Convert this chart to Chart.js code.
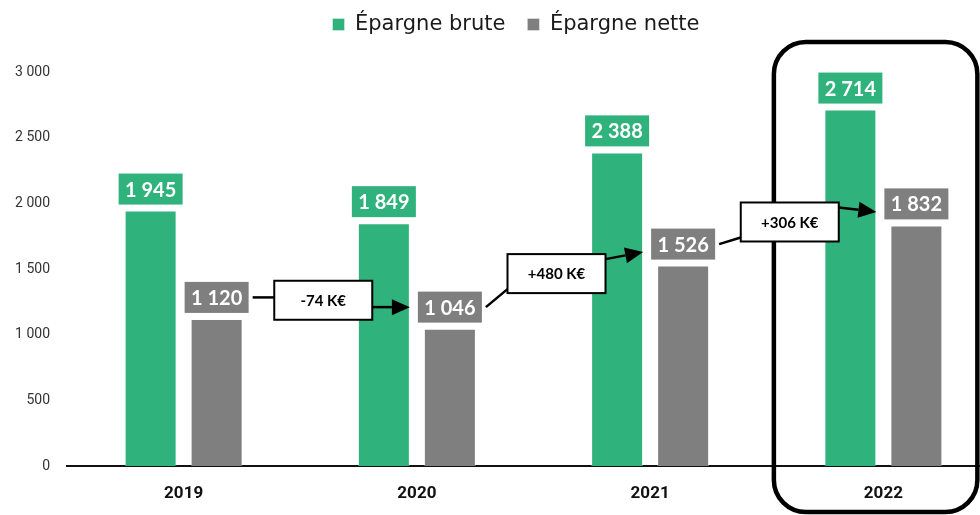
<!DOCTYPE html>
<html><head><meta charset="utf-8">
<script src="https://cdn.jsdelivr.net/npm/chart.js@4/dist/chart.umd.min.js"></script>
<style>
html,body{margin:0;padding:0;overflow:hidden;background:#fff;width:980px;height:515px}
#wrap{width:1040px;height:515px;position:relative}
</style>
</head><body><div id="wrap"><canvas id="c" width="1040" height="515"></canvas></div>
<script>
const categories = ['2019', '2020', '2021', '2022'];
const seriesNames = ['Épargne brute', 'Épargne nette'];
const epargneBrute = [1945, 1849, 2388, 2714];
const epargneNette = [1120, 1046, 1526, 1832];
const yTicks = [0, 500, 1000, 1500, 2000, 2500, 3000];
const highlightIndex = 3;

const GREEN = '#30B27C', GRAY = '#7F7F7F';
function fmt(n){ return String(Math.abs(n)).replace(/\B(?=(\d{3})+(?!\d))/g, ' '); }

function roundRectPath(ctx, x, y, w, h, r){
  ctx.beginPath();
  ctx.moveTo(x + r, y);
  ctx.lineTo(x + w - r, y);
  ctx.arcTo(x + w, y, x + w, y + r, r);
  ctx.lineTo(x + w, y + h - r);
  ctx.arcTo(x + w, y + h, x + w - r, y + h, r);
  ctx.lineTo(x + r, y + h);
  ctx.arcTo(x, y + h, x, y + h - r, r);
  ctx.lineTo(x, y + r);
  ctx.arcTo(x, y, x + r, y, r);
  ctx.closePath();
}

const overlay = {
  id: 'overlay',
  beforeInit(chart){
    const lg = chart.legend;
    if (lg){ const f = lg.fit; lg.fit = function(){ f.call(this); this.height = 72; }; }
  },
  afterLayout(chart){
    const lg = chart.legend;
    if (lg){ lg.top -= 8; lg.bottom -= 8; lg.left -= 4; lg.right -= 4; }
  },
  afterDatasetsDraw(chart){
    const ctx = chart.ctx;
    const xs = chart.scales.x;
    // highlight frame
    const hc = xs.getPixelForValue(highlightIndex);
    ctx.save();
    ctx.lineWidth = 4.5; ctx.strokeStyle = '#000';
    roundRectPath(ctx, hc - 109.5, chart.chartArea.top - 30, 203.5, chart.height - 3 - (chart.chartArea.top - 30), 32);
    ctx.stroke();
    ctx.restore();

    // value labels
    const boxes = [[], []];
    chart.data.datasets.forEach((ds, d) => {
      const meta = chart.getDatasetMeta(d);
      meta.data.forEach((bar, i) => {
        const w = 64, h = 31;
        const x = bar.x - w / 2, y = bar.y - 6 - h;
        ctx.fillStyle = ds.backgroundColor;
        ctx.fillRect(x, y, w, h);
        ctx.fillStyle = '#fff';
        ctx.font = 'bold 20px Lato';
        ctx.textAlign = 'center'; ctx.textBaseline = 'middle';
        ctx.fillText(fmt(ds.data[i]), bar.x, y + h / 2 + 1);
        boxes[d][i] = {left: x, right: x + w, top: y, bottom: y + h, cy: y + h / 2};
      });
    });

    // variation annotations
    const net = chart.data.datasets[1].data;
    ctx.save();
    for (let i = 0; i < net.length - 1; i++){
      const L = boxes[1][i], R = boxes[1][i + 1];
      const delta = net[i + 1] - net[i];
      const txt = (delta < 0 ? '-' : '+') + fmt(delta) + ' K€';
      const bw = 98, bh = 39;
      const cx = (L.right + R.left) / 2 - 10, cy = (L.cy + R.cy) / 2 - 2;
      const bl = cx - bw / 2, bt = cy - bh / 2;
      const clamp = (v, a, b) => Math.max(a, Math.min(b, v));
      ctx.strokeStyle = '#000'; ctx.fillStyle = '#000'; ctx.lineWidth = 2.5;
      // connector from left label
      ctx.beginPath();
      ctx.moveTo(L.right + 4, L.cy);
      ctx.lineTo(bl, clamp(L.cy, bt + 4, bt + bh - 4));
      ctx.stroke();
      // arrow to right label
      const sx = bl + bw, sy = clamp(R.cy, bt + 5, bt + bh - 5);
      const tx = R.left - 8, ty = R.cy + Math.sign(sy - R.cy) * 8;
      const ang = Math.atan2(ty - sy, tx - sx);
      const hl = 18, hw = 8;
      const bx = tx - Math.cos(ang) * hl, by = ty - Math.sin(ang) * hl;
      ctx.beginPath(); ctx.moveTo(sx, sy); ctx.lineTo(bx, by); ctx.stroke();
      ctx.beginPath();
      ctx.moveTo(tx, ty);
      ctx.lineTo(bx + Math.sin(ang) * hw, by - Math.cos(ang) * hw);
      ctx.lineTo(bx - Math.sin(ang) * hw, by + Math.cos(ang) * hw);
      ctx.closePath(); ctx.fill();
      // box
      ctx.fillStyle = '#fff';
      ctx.fillRect(bl, bt, bw, bh);
      ctx.lineWidth = 2;
      ctx.strokeRect(bl, bt, bw, bh);
      ctx.fillStyle = '#000';
      ctx.font = 'bold 15px Lato';
      ctx.textAlign = 'center'; ctx.textBaseline = 'middle';
      ctx.fillText(txt, cx, cy + 1);
    }
    ctx.restore();
  }
};

new Chart(document.getElementById('c'), {
  type: 'bar',
  data: {
    labels: categories,
    datasets: [
      {label: seriesNames[0], data: epargneBrute, backgroundColor: GREEN, borderColor: 'rgba(255,255,255,0.35)', borderWidth: 1,
       categoryPercentage: 0.566, barPercentage: 0.788},
      {label: seriesNames[1], data: epargneNette, backgroundColor: GRAY, borderColor: 'rgba(255,255,255,0.35)', borderWidth: 1,
       categoryPercentage: 0.566, barPercentage: 0.788}
    ]
  },
  options: {
    responsive: false,
    animation: false,
    devicePixelRatio: 1,
    layout: {padding: 0},
    plugins: {
      legend: {
        position: 'top',
        labels: {boxWidth: 12, boxHeight: 12, padding: 22, color: '#1a1a1a',
                 font: {family: 'DejaVu Sans', size: 21}}
      },
      tooltip: {enabled: false}
    },
    scales: {
      x: {
        grid: {display: false, drawTicks: false},
        border: {display: true, color: '#111', width: 2},
        ticks: {padding: 18, color: '#111', font: {family: 'Roboto', size: 17, weight: 'bold'}},
        afterFit: s => { s.height = 49; }
      },
      y: {
        min: 0, max: 3000,
        afterBuildTicks: s => { s.ticks = yTicks.map(v => ({value: v})); },
        grid: {display: false, drawTicks: false},
        border: {display: false},
        ticks: {padding: 17, color: '#333', font: {family: 'Roboto', size: 14}, callback: v => fmt(v)},
        afterFit: s => { s.width = 67; }
      },
      yR: {
        type: 'linear', position: 'right', display: true,
        grid: {display: false, drawTicks: false},
        border: {display: false},
        ticks: {display: false},
        afterFit: s => { s.width = 40; }
      }
    }
  },
  plugins: [overlay]
});
</script>
</body></html>
